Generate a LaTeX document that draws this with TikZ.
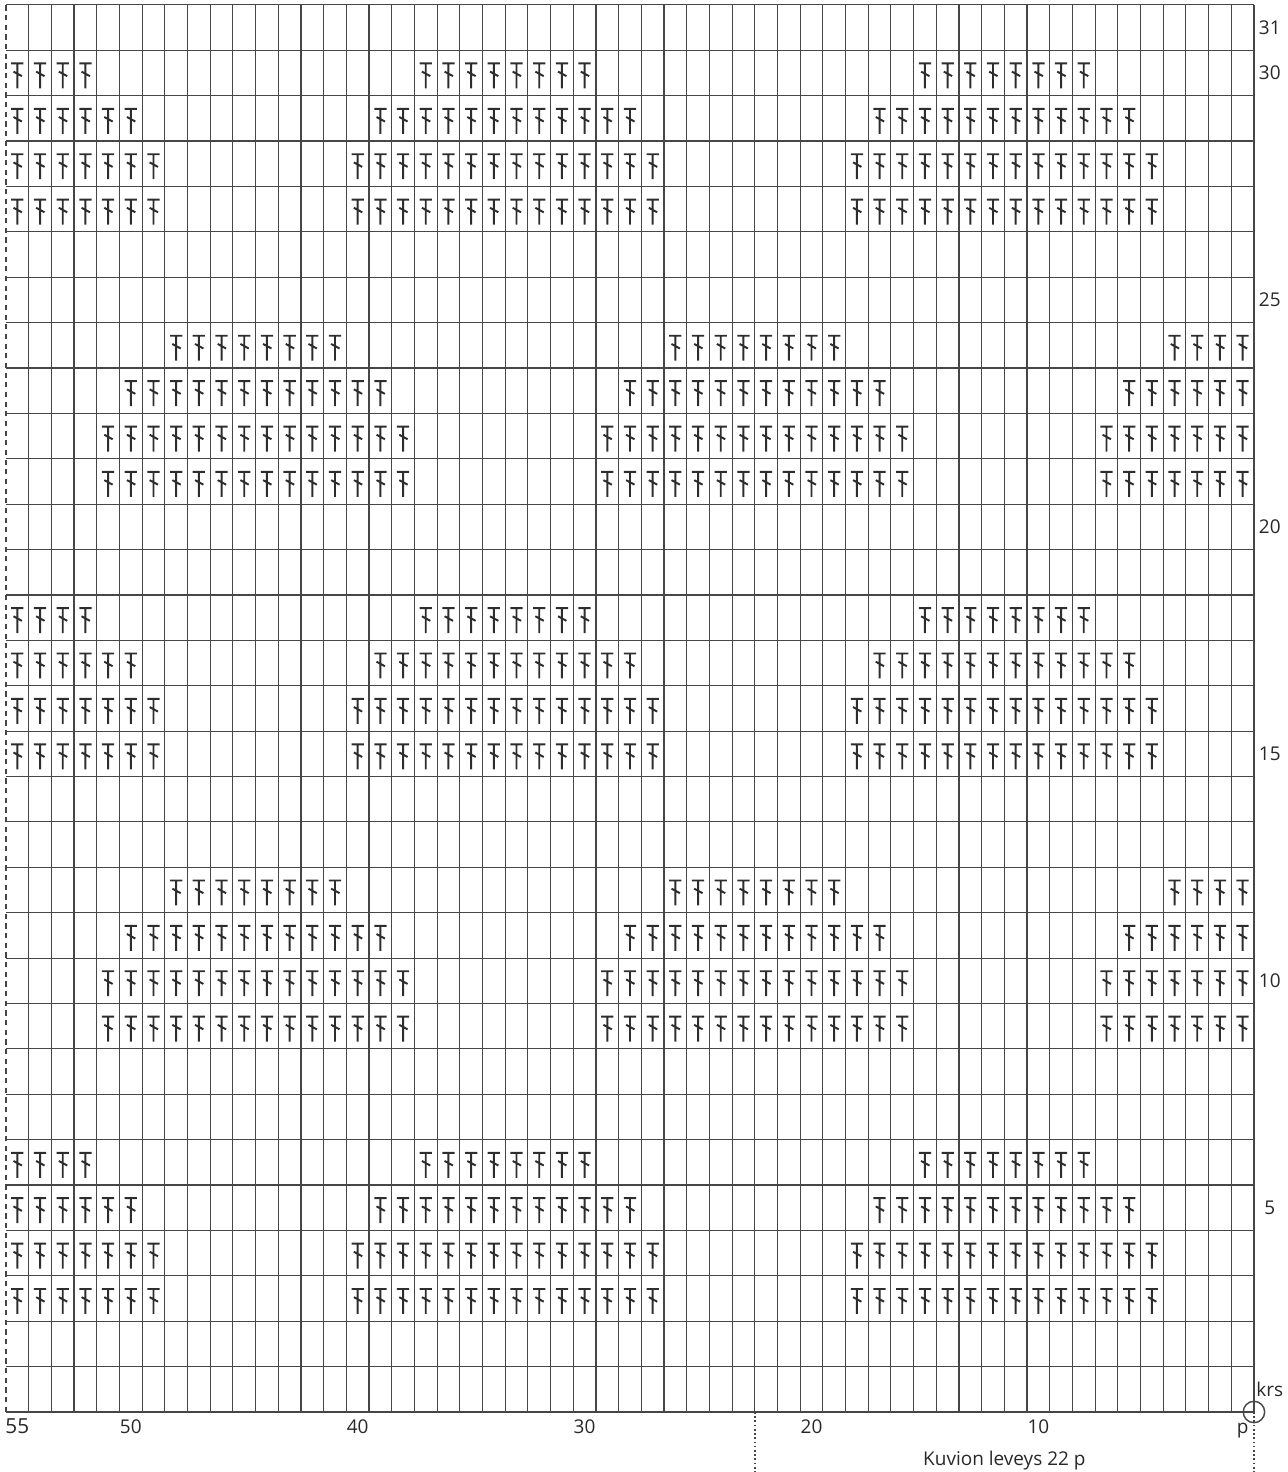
\documentclass[tikz,border=0pt]{standalone}
\usepackage{fontspec}
\setmainfont{Open Sans}
\definecolor{gridgray}{RGB}{70, 70, 70}
\definecolor{stitch}{RGB}{45, 45, 45}
\definecolor{labeltext}{RGB}{40, 40, 40}

\begin{document}
\begin{tikzpicture}[every node/.style={font=\fontsize{10.8}{12}\selectfont, text=labeltext},
    gridline/.style={draw=gridgray, line width=0.65pt},
    stitchline/.style={draw=stitch, line width=1.1pt},
    dotline/.style={draw=gridgray, line width=1pt, dash pattern=on 1pt off 1.4pt},
    twist/.pic={\draw[stitchline] (-0.27,0.21) -- (0.27,0.21) (0,0.21) -- (0,-0.34) (-0.17,0.03) -- (0.2,-0.07);},
    rowlabel/.style={anchor=center},
    collabel/.style={anchor=base}]
    \useasboundingbox (0,0) rectangle (25.74,29.44);
    \begin{scope}[shift={(0.12,1.2)}, x=0.4538cm, y=0.9078cm]
        % grid
        \foreach \y in {0,...,31} \draw[gridline] (0,\y) -- (55,\y);
        \foreach \x in {1,...,55} \draw[gridline] (\x,0) -- (\x,31);
        \draw[gridline, dash pattern=on 3pt off 2.5pt] (0,0) -- (0,31);
        % stitches, 22 wide repeat, 12 rows
        \foreach \r in {3,...,30} {
            \pgfmathtruncatemacro\m{mod(\r-3,6)}
            \pgfmathtruncatemacro\h{\m<2 ? 7 : (\m==2 ? 6 : (\m==3 ? 4 : 0))}
            \pgfmathsetmacro\sh{isodd(div(\r-3,6)) ? 10.5 : -0.5}
            \foreach \c in {1,...,55} {
                \pgfmathtruncatemacro\on{abs(mod(\c+\sh,22)-11) < \h}
                \ifnum\on=1 \pic at (55.5-\c,\r-0.5) {twist};\fi
            }
        }
        % labels
        \foreach \r in {31,30,25,20,15,10,5} \node[rowlabel] (row\r) at (55.7,\r-0.5) {\r};
        \node[rowlabel] (krs) at (55.7,0.5) {krs};
        \foreach \c in {50,40,30,20,10} \node[collabel] (col\c) at (55.5-\c,-0.48) {\c};
        \node[collabel, font=\fontsize{11.8}{13}\selectfont] (col55) at (0.5,-0.48) {55};
        \node[collabel] (colp) at (54.5,-0.48) {p};
        % start point and repeat width
        \coordinate (start) at (55,0);
        \coordinate (repeat) at (33,0);
        \coordinate (startend) at (55,-1.33);
        \coordinate (repeatend) at (33,-1.33);
        \draw[gridline, line width=0.8pt] (start) circle[radius=0.214cm];
        \draw[dotline] (start) -- (startend);
        \draw[dotline] (repeat) -- (repeatend);
        \node[collabel] (width) at (44,-1.17) {Kuvion leveys 22 p};
    \end{scope}
\end{tikzpicture}
\end{document}
